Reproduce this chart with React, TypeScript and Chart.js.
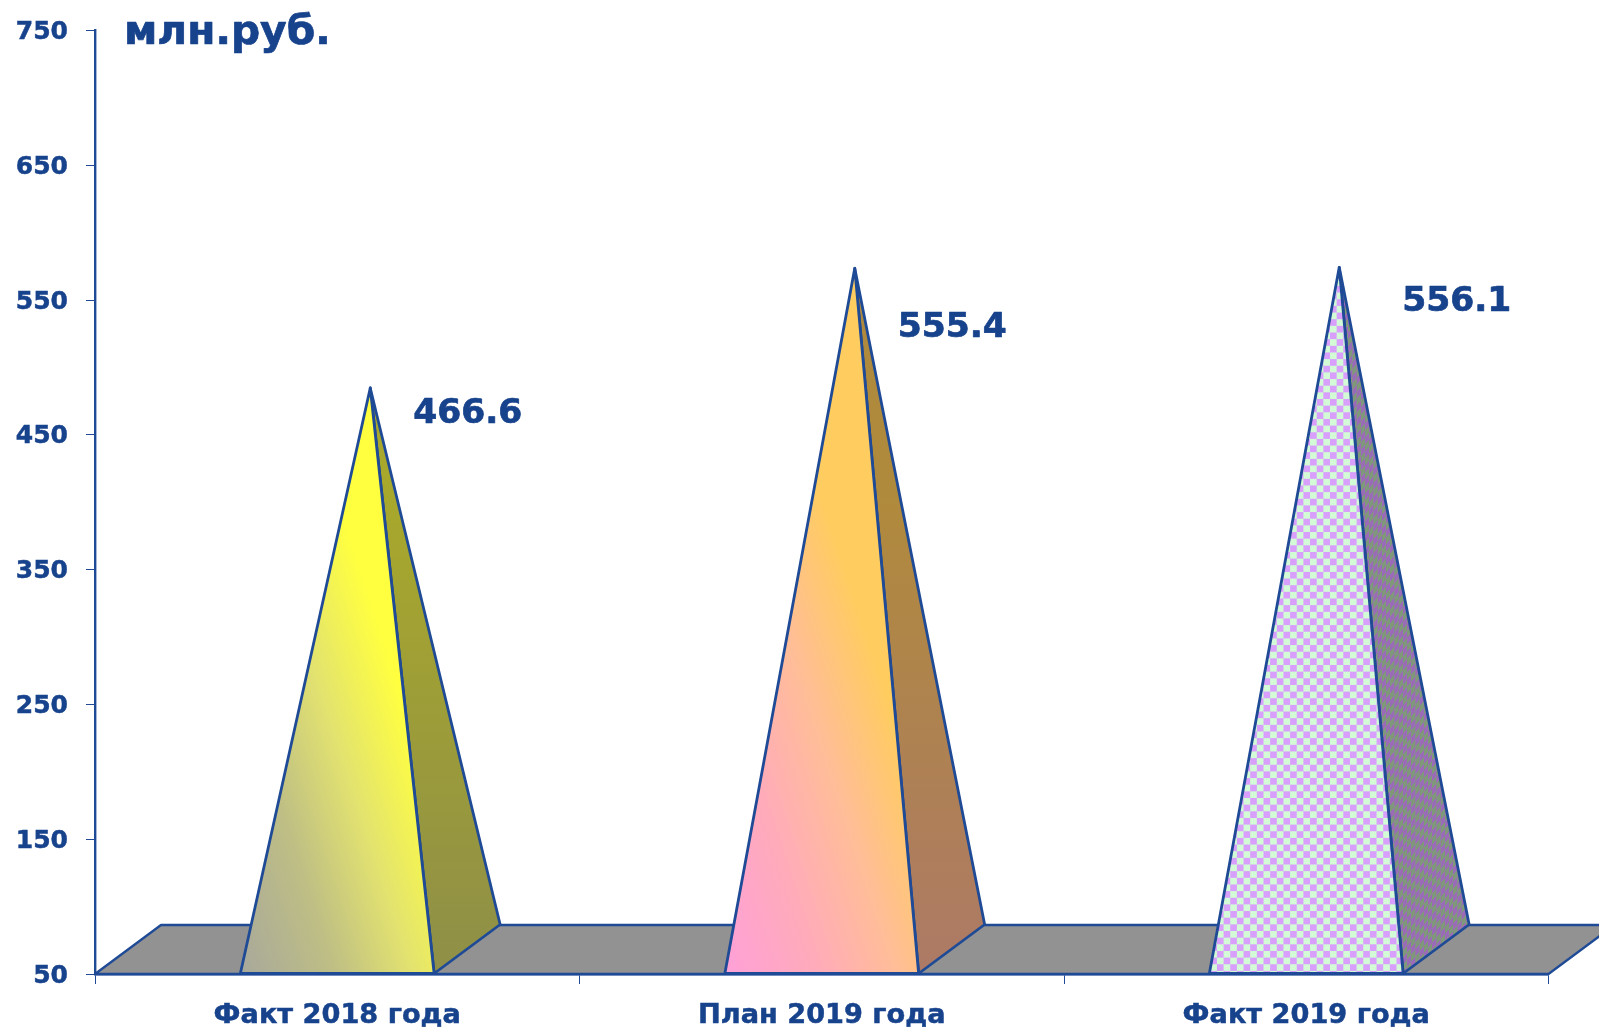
import React, { useEffect, useRef } from "react";
import { Chart, registerables } from "chart.js";

Chart.register(...registerables);

const categories = ["Факт 2018 года", "План 2019 года", "Факт 2019 года"];
const values = [466.6, 555.4, 556.1];
const valueLabels = ["466.6", "555.4", "556.1"];
const unitLabel = "млн.руб.";

const BLUE = "#17428c";
const LINE = "#1f4a96";
const FLOOR = "#929292";
const FONT = "'DejaVu Sans', sans-serif";
const DEPTH_X = 66;
const DEPTH_Y = 49;
const LABEL_OFFSETS = [[43, 26.5], [43, 60], [63, 35]];

function checker(ctx: CanvasRenderingContext2D, a: string, b: string, size: number, m?: number[]) {
  const c = document.createElement("canvas");
  c.width = size * 2;
  c.height = size * 2;
  const g = c.getContext("2d")!;
  g.fillStyle = a;
  g.fillRect(0, 0, size * 2, size * 2);
  g.fillStyle = b;
  g.fillRect(0, 0, size, size);
  g.fillRect(size, size, size, size);
  const p = ctx.createPattern(c, "repeat")!;
  if (m) p.setTransform(new DOMMatrix(m));
  return p;
}

function poly(ctx: CanvasRenderingContext2D, pts: number[][], fill: any, width = 2.8) {
  ctx.beginPath();
  pts.forEach((p, i) => (i ? ctx.lineTo(p[0], p[1]) : ctx.moveTo(p[0], p[1])));
  ctx.closePath();
  ctx.fillStyle = fill;
  ctx.fill();
  ctx.strokeStyle = LINE;
  ctx.lineWidth = width;
  ctx.lineJoin = "round";
  ctx.stroke();
}

function heavyText(ctx: CanvasRenderingContext2D, text: string, x: number, y: number) {
  ctx.fillStyle = BLUE;
  ctx.strokeStyle = BLUE;
  ctx.lineWidth = 0.7;
  ctx.lineJoin = "round";
  ctx.fillText(text, x, y);
  ctx.strokeText(text, x, y);
}

const pyramidPlugin = {
  id: "pyramids",
  beforeDatasetsDraw(chart: any) {
    const { ctx, chartArea: a } = chart;
    ctx.save();
    poly(ctx, [
      [a.left, a.bottom],
      [a.left + DEPTH_X, a.bottom - DEPTH_Y],
      [a.right + DEPTH_X, a.bottom - DEPTH_Y],
      [a.right, a.bottom],
    ], FLOOR, 2.3);
    ctx.restore();
  },
  afterDatasetsDraw(chart: any) {
    const { ctx } = chart;
    const bars = chart.getDatasetMeta(0).data;
    ctx.save();
    bars.forEach((bar: any, i: number) => {
      const left = bar.x - bar.width / 2;
      const right = bar.x + bar.width / 2;
      const base = bar.base;
      const apex = [bar.x + DEPTH_X / 2, bar.y - DEPTH_Y / 2];
      const backRight = [right + DEPTH_X, base - DEPTH_Y];
      let front: any;
      let side: any;
      if (i === 2) {
        front = checker(ctx, "#d2fbd6", "#d8a0fc", 7, [0.95, 0, 0, 0.95, 0, 0]);
        side = checker(ctx, "#80987a", "#9a6cb8", 7, [0.6, -0.74, 0, 1, 0, 0]);
      } else {
        const stops = i === 0
          ? ["#a8a89c", "#bebe85", "#e2e270", "#ffff40"]
          : ["#ffa0d8", "#ffabba", "#ffbd98", "#ffcc60"];
        front = ctx.createLinearGradient(left, base, left + 228, base - 75);
        front.addColorStop(0, stops[0]);
        front.addColorStop(0.37, stops[1]);
        front.addColorStop(0.68, stops[2]);
        front.addColorStop(1, stops[3]);
        side = ctx.createLinearGradient(0, base, 0, base - 480);
        if (i === 0) {
          side.addColorStop(0, "#8f8f48");
          side.addColorStop(1, "#a8a82c");
        } else {
          side.addColorStop(0, "#ad7a66");
          side.addColorStop(1, "#b08a3c");
        }
      }
      poly(ctx, [[right, base], backRight, apex], side);
      poly(ctx, [[left, base], [right, base], apex], front);

      ctx.font = `bold 34.5px ${FONT}`;
      ctx.textAlign = "left";
      ctx.textBaseline = "middle";
      heavyText(ctx, valueLabels[i], apex[0] + LABEL_OFFSETS[i][0], apex[1] + LABEL_OFFSETS[i][1]);
    });
    ctx.font = `bold 40.8px ${FONT}`;
    ctx.textAlign = "left";
    ctx.textBaseline = "alphabetic";
    heavyText(ctx, unitLabel, 124, 43.5);
    ctx.restore();
  },
};

export default function App() {
  const ref = useRef<HTMLCanvasElement>(null);
  useEffect(() => {
    const chart = new Chart(ref.current!, {
      type: "bar",
      data: {
        labels: categories,
        datasets: [{
          data: values,
          base: 50,
          backgroundColor: "rgba(0,0,0,0)",
          borderWidth: 0,
          categoryPercentage: 1,
          barPercentage: 0.4,
        }],
      },
      options: {
        animation: false,
        responsive: false,
        devicePixelRatio: 1,
        layout: { padding: { top: 30.5, right: 50.5, left: 0, bottom: 0 } },
        plugins: { legend: { display: false }, tooltip: { enabled: false }, title: { display: false } },
        scales: {
          x: {
            offset: true,
            afterFit: (s: any) => { s.height = 57; },
            grid: { drawOnChartArea: false, offset: true, tickLength: 10, color: LINE, lineWidth: 1 },
            border: { color: LINE, width: 2.4 },
            ticks: { color: BLUE, font: { family: FONT, weight: "bold", size: 27.2 }, padding: 15.5, maxRotation: 0, textStrokeColor: BLUE, textStrokeWidth: 0.5 },
          },
          y: {
            min: 50,
            max: 750,
            afterFit: (s: any) => { s.width = 95; s.paddingTop = 0; s.paddingBottom = 0; },
            grid: { drawOnChartArea: false, tickLength: 9, color: LINE, lineWidth: 1 },
            border: { color: LINE, width: 2.4 },
            ticks: { stepSize: 100, color: BLUE, font: { family: FONT, weight: "bold", size: 25 }, padding: 18, labelOffset: 2, textStrokeColor: BLUE, textStrokeWidth: 0.5 },
          },
        },
      },
      plugins: [pyramidPlugin],
    } as any);
    return () => chart.destroy();
  }, []);
  return (
    <div style={{ position: "absolute", left: 0, top: 0, width: 1599, height: 1031, overflow: "hidden", background: "#fff" }}>
      <canvas ref={ref} width={1599} height={1031} style={{ display: "block" }} />
    </div>
  );
}
